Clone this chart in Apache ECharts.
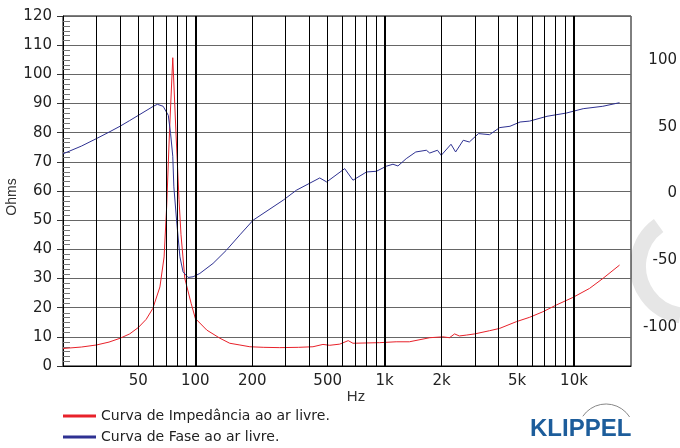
<!DOCTYPE html>
<html>
<head>
<meta charset="utf-8">
<script src="https://cdn.jsdelivr.net/npm/echarts@6/dist/echarts.min.js"></script>
<style>
  html, body { margin: 0; padding: 0; background: #fff; }
  #chart { width: 680px; height: 448px; }
</style>
</head>
<body>
<div id="chart"></div>
<script>
  // impedance curve (Hz, ohms)
  const freqZ = [20, 25, 30, 35, 40, 45, 50, 55, 59.6, 65, 68.4, 70.6, 73, 76, 79, 82, 84, 88, 95, 100, 115, 135, 152, 172, 194, 230, 279, 350, 418, 472, 512, 579, 642, 680, 800, 940, 1150, 1350, 1730, 2030, 2200, 2340, 2480, 2700, 2990, 3580, 4050, 4960, 5830, 6850, 8060, 9860, 12080, 14200, 17400];
  const ohms = [6.0, 6.5, 7.2, 8.2, 9.5, 11.0, 13.2, 16.0, 19.7, 27.1, 37.4, 55, 80, 105.7, 80, 57, 45, 30, 21.5, 16.3, 12.3, 9.5, 7.8, 7.2, 6.6, 6.4, 6.3, 6.4, 6.6, 7.4, 7.1, 7.5, 8.7, 7.8, 7.9, 8.0, 8.3, 8.3, 9.7, 10.0, 9.7, 11.0, 10.3, 10.6, 11.0, 12.1, 12.9, 15.2, 16.7, 18.6, 20.9, 23.5, 26.6, 30.0, 34.6];

  // phase curve (Hz, degrees)
  const freqP = [20, 25, 30, 35, 40, 45, 50, 60, 63, 67.6, 72, 74, 76, 77, 79.6, 82.9, 86.1, 91.5, 97.3, 105.6, 124, 146, 172, 202, 291, 342, 454, 494, 615, 680, 802, 904, 1020, 1106, 1175, 1300, 1460, 1660, 1730, 1900, 1990, 2240, 2370, 2600, 2800, 3130, 3580, 4050, 4590, 5190, 5830, 7200, 9090, 11180, 14190, 17390];
  const phase = [29.8, 35.6, 41.2, 46.1, 50.5, 54.8, 58.7, 65.5, 67, 65.5, 58.7, 45, 28, 5, -20, -47.5, -58.8, -63, -62.5, -60, -52.5, -42.5, -31, -20, -5, 2.5, 11.7, 8.7, 18.7, 10, 16.2, 16.7, 20.5, 22, 20.7, 26.2, 31.2, 32.5, 30.4, 32.5, 28.7, 37, 31.2, 40, 38.7, 45, 44.2, 49.5, 50.5, 53.7, 54.4, 58, 60.4, 63.7, 65.5, 68.2];

  // axes
  const xTicks = [50, 100, 200, 500, 1000, 2000, 5000, 10000];
  const gridFreqs = [30, 40, 50, 60, 70, 80, 90, 100, 200, 300, 400, 500, 600, 700, 800, 900, 1000, 2000, 3000, 4000, 5000, 6000, 7000, 8000, 9000, 10000];
  const phaseTicks = [-100, -50, 0, 50, 100];
  const ohmStep = 10;
  const minorPerStep = 6;

  // inner minor ticks of the ohm axis (6 per 10 ohm step)
  const minorOhms = [];
  for (let v = 0; v < 120; v += ohmStep) {
    for (let k = 1; k < minorPerStep; k++) minorOhms.push(v + k * ohmStep / minorPerStep);
  }

  const FONT = 'DejaVu Sans';
  const RED = '#e8212a';
  const BLUE = '#2e3192';
  const MARK = '#e6e6e6';

  const chart = echarts.init(document.getElementById('chart'), null, { renderer: 'canvas' });

  const option = {
    animation: false,
    backgroundColor: '#fff',
    grid: {
      left: 63, right: 48, top: 16, bottom: 82,
      show: true, borderColor: '#000', borderWidth: 1, backgroundColor: '#fff'
    },
    legend: {
      orient: 'vertical',
      left: 63, top: 409,
      padding: 0,
      itemGap: 7,
      itemWidth: 33, itemHeight: 3,
      icon: 'rect',
      textStyle: { fontFamily: FONT, fontSize: 14, color: '#222' },
      data: ['Curva de Impedância ao ar livre.', 'Curva de Fase ao ar livre.']
    },
    xAxis: {
      type: 'log', logBase: 10, min: 20, max: 20000,
      axisLine: { lineStyle: { color: '#000', width: 1 } },
      axisTick: { show: false },
      splitLine: { show: false },
      axisLabel: {
        customValues: xTicks,
        margin: 8,
        fontFamily: FONT, fontSize: 15, color: '#222',
        formatter: v => v >= 1000 ? (v / 1000) + 'k' : String(v)
      }
    },
    yAxis: [
      {
        type: 'value', position: 'left', min: 0, max: 120, interval: ohmStep,
        axisLine: { show: true, lineStyle: { color: '#000' } },
        axisTick: { show: true, length: 6, lineStyle: { color: '#333' } },
        splitLine: { lineStyle: { color: '#666', width: 1 } },
        axisLabel: { margin: 11, fontFamily: FONT, fontSize: 15, color: '#222' }
      },
      {
        type: 'value', position: 'right', min: -129.5, max: 133.3,
        axisLine: { show: false },
        axisTick: { show: false },
        splitLine: { show: false },
        axisLabel: {
          customValues: phaseTicks,
          align: 'right', margin: 46,
          fontFamily: FONT, fontSize: 15, color: '#222'
        }
      }
    ],
    graphic: [
      // faint watermark stroke outside the plot
      {
        type: 'arc', z: -10, shape: { cx: 688, cy: 266, r: 50, startAngle: Math.PI * 0.55, endAngle: Math.PI * 1.3 },
        style: { stroke: MARK, fill: null, lineWidth: 16 }
      },
      {
        type: 'text', x: 12, y: 197, rotation: Math.PI / 2,
        style: { text: 'Ohms', fontFamily: 'Liberation Sans', fontSize: 14, fill: '#333', align: 'center', verticalAlign: 'middle' }
      },
      {
        type: 'text', x: 356, y: 397,
        style: { text: 'Hz', fontFamily: 'Liberation Sans', fontSize: 15, fill: '#333', align: 'center', verticalAlign: 'middle' }
      },
      {
        type: 'arc', shape: { cx: 606, cy: 432, r: 28, startAngle: Math.PI * 1.19, endAngle: Math.PI * 1.82 },
        style: { stroke: '#888', fill: null, lineWidth: 1 }
      },
      {
        type: 'text', x: 530, y: 429,
        style: { text: 'KLIPPEL', fontFamily: 'Liberation Sans', fontWeight: 'bold', fontSize: 24, fill: '#1d5d9b', verticalAlign: 'middle' }
      }
    ],
    series: [
      {
        // vertical grid lines
        type: 'line', data: [], z: 1, silent: true,
        markLine: {
          silent: true, symbol: ['none', 'none'], label: { show: false },
          lineStyle: { type: 'solid', color: '#000', width: 1 },
          data: gridFreqs.map(f => ({
            xAxis: f,
            lineStyle: { type: 'solid', color: '#000', width: [100, 1000, 10000].includes(f) ? 2 : 1 }
          }))
        }
      },
      {
        // minor ticks along the inside of the ohm axis
        type: 'custom', z: 2, silent: true,
        data: minorOhms.map(v => [20, v]),
        renderItem: (params, api) => {
          const p = api.coord([api.value(0), api.value(1)]);
          const y = Math.round(p[1]) + 0.5;
          return {
            type: 'line',
            shape: { x1: p[0], y1: y, x2: p[0] + 7, y2: y },
            style: { stroke: '#777', lineWidth: 1 }
          };
        }
      },
      {
        name: 'Curva de Impedância ao ar livre.',
        type: 'line', z: 3, showSymbol: false, symbol: 'none',
        color: RED,
        lineStyle: { color: RED, width: 1 },
        data: freqZ.map((f, i) => [f, ohms[i]])
      },
      {
        name: 'Curva de Fase ao ar livre.',
        type: 'line', z: 3, yAxisIndex: 1, showSymbol: false, symbol: 'none',
        color: BLUE,
        lineStyle: { color: BLUE, width: 1 },
        data: freqP.map((f, i) => [f, phase[i]])
      }
    ]
  };

  chart.setOption(option);
</script>
</body>
</html>
